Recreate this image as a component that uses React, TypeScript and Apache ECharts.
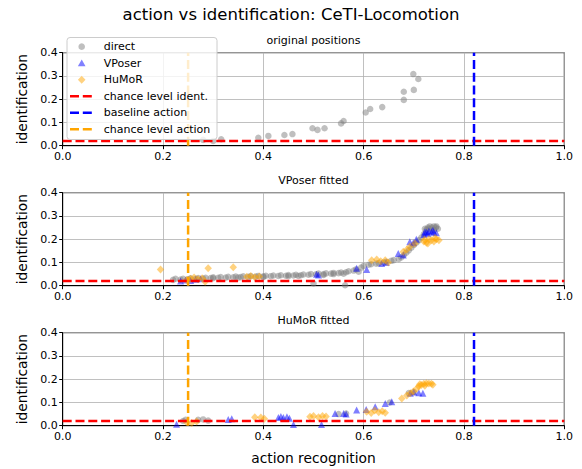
import React, { useEffect, useRef } from "react";
import * as echarts from "echarts";

const TITLE = "action vs identification: CeTI-Locomotion";
const SUBTITLES = ["original positions", "VPoser fitted", "HuMoR fitted"];
const X_TICKS = [0, 0.2, 0.4, 0.6, 0.8, 1.0];
const Y_TICKS = [0, 0.1, 0.2, 0.3, 0.4];
const CHANCE_IDENT = 0.02;
const BASELINE_ACTION = 0.82;
const CHANCE_ACTION = 0.25;

const origDirect: number[][] = [
  [0.28, 0.025], [0.3, 0.02], [0.316, 0.028], [0.39, 0.034], [0.41, 0.042],
  [0.442, 0.046], [0.458, 0.05], [0.498, 0.075], [0.508, 0.068], [0.522, 0.075],
  [0.555, 0.096], [0.56, 0.106], [0.604, 0.143], [0.613, 0.158], [0.637, 0.166],
  [0.68, 0.197], [0.68, 0.232], [0.7, 0.24], [0.699, 0.308], [0.709, 0.287],
];

const vpDirect: number[][] = [
  [0.22, 0.025], [0.225, 0.03], [0.235, 0.026], [0.24, 0.03], [0.25, 0.028], [0.255, 0.032],
  [0.265, 0.03], [0.27, 0.033], [0.28, 0.031], [0.285, 0.034], [0.295, 0.033], [0.3, 0.036],
  [0.31, 0.034], [0.315, 0.037], [0.325, 0.035], [0.33, 0.038], [0.34, 0.036], [0.345, 0.039],
  [0.355, 0.037], [0.36, 0.04], [0.37, 0.038], [0.375, 0.041], [0.385, 0.039], [0.39, 0.042],
  [0.4, 0.04], [0.405, 0.043], [0.415, 0.041], [0.42, 0.044], [0.43, 0.042], [0.435, 0.045],
  [0.445, 0.043], [0.45, 0.046], [0.46, 0.044], [0.465, 0.047], [0.475, 0.045], [0.48, 0.048],
  [0.49, 0.047], [0.495, 0.05], [0.5, 0.01], [0.505, 0.049], [0.51, 0.052], [0.52, 0.05],
  [0.525, 0.053], [0.535, 0.052], [0.54, 0.055], [0.55, 0.054], [0.555, 0.057], [0.563, 0.002],
  [0.565, 0.058], [0.57, 0.062], [0.58, 0.065], [0.585, 0.07], [0.595, 0.078], [0.6, 0.085],
  [0.61, 0.09], [0.615, 0.092], [0.625, 0.095], [0.63, 0.097], [0.64, 0.1], [0.645, 0.103],
  [0.655, 0.107], [0.66, 0.11], [0.67, 0.115], [0.675, 0.122], [0.68, 0.132], [0.685, 0.142],
  [0.69, 0.152], [0.695, 0.163], [0.7, 0.175], [0.705, 0.185], [0.71, 0.195], [0.715, 0.207],
  [0.72, 0.222], [0.722, 0.245], [0.728, 0.25], [0.732, 0.255], [0.736, 0.25], [0.74, 0.255],
  [0.744, 0.25], [0.748, 0.245], [0.745, 0.255], [0.73, 0.245], [0.725, 0.24], [0.74, 0.24],
  [0.3, 0.032], [0.35, 0.035], [0.4, 0.037], [0.45, 0.041], [0.47, 0.042], [0.52, 0.046],
  [0.54, 0.05], [0.56, 0.052], [0.59, 0.06],
];

const vpVPoser: number[][] = [
  [0.235, 0.02], [0.245, 0.025], [0.255, 0.022], [0.265, 0.028], [0.275, 0.03],
  [0.506, 0.049], [0.51, 0.046], [0.586, 0.075], [0.606, 0.07], [0.636, 0.096],
  [0.645, 0.1], [0.669, 0.139], [0.679, 0.132], [0.692, 0.189], [0.699, 0.185],
  [0.705, 0.2], [0.72, 0.22], [0.725, 0.23], [0.73, 0.235], [0.735, 0.232],
  [0.74, 0.23], [0.745, 0.228], [0.728, 0.225], [0.738, 0.238], [0.722, 0.232],
];

const vpHuMoR: number[][] = [
  [0.195, 0.07], [0.29, 0.075], [0.34, 0.079], [0.247, 0.025], [0.255, 0.03],
  [0.262, 0.035], [0.27, 0.028], [0.278, 0.032], [0.284, 0.017], [0.367, 0.038],
  [0.375, 0.042], [0.383, 0.036], [0.392, 0.04], [0.616, 0.11], [0.626, 0.113],
  [0.634, 0.105], [0.643, 0.11], [0.649, 0.1], [0.679, 0.146], [0.686, 0.155],
  [0.692, 0.168], [0.702, 0.182], [0.72, 0.19], [0.725, 0.185], [0.73, 0.2],
  [0.735, 0.195], [0.74, 0.19], [0.745, 0.2], [0.75, 0.195], [0.728, 0.182],
  [0.742, 0.205], [0.722, 0.198],
];

const huDirect: number[][] = [
  [0.24, 0.02], [0.245, 0.025], [0.27, 0.025], [0.28, 0.027], [0.29, 0.022],
  [0.55, 0.05], [0.565, 0.052], [0.652, 0.1], [0.69, 0.14], [0.7, 0.145],
];

const huVPoser: number[][] = [
  [0.227, 0.006], [0.33, 0.027], [0.337, 0.03], [0.43, 0.035], [0.435, 0.04],
  [0.44, 0.035], [0.447, 0.038], [0.452, 0.032], [0.46, 0.005], [0.516, 0.005],
  [0.543, 0.053], [0.56, 0.053], [0.565, 0.05], [0.586, 0.067], [0.605, 0.07],
  [0.623, 0.082], [0.643, 0.096], [0.656, 0.103], [0.693, 0.14], [0.7, 0.145],
  [0.71, 0.142], [0.718, 0.14],
];

const huHuMoR: number[][] = [
  [0.247, 0.015], [0.257, 0.012], [0.267, 0.018], [0.383, 0.036], [0.395, 0.035],
  [0.402, 0.03], [0.493, 0.038], [0.5, 0.042], [0.51, 0.036], [0.518, 0.042],
  [0.525, 0.04], [0.606, 0.06], [0.615, 0.055], [0.622, 0.065], [0.63, 0.058],
  [0.637, 0.062], [0.643, 0.056], [0.676, 0.117], [0.686, 0.13], [0.693, 0.14],
  [0.699, 0.147], [0.706, 0.16], [0.71, 0.17], [0.715, 0.175], [0.72, 0.18],
  [0.725, 0.183], [0.73, 0.182], [0.735, 0.18], [0.738, 0.176], [0.712, 0.178],
  [0.722, 0.172],
];

const PANELS = [
  { direct: origDirect, vposer: [] as number[][], humor: [] as number[][] },
  { direct: vpDirect, vposer: vpVPoser, humor: vpHuMoR },
  { direct: huDirect, vposer: huVPoser, humor: huHuMoR },
];

const FONT = "DejaVu Sans";
const GRID_LEFT = 62.7;
const GRID_W = 501.6;
const GRID_TOPS = [52.7, 192.7, 332.7];
const GRID_H = 93;

export default function App() {
  const ref = useRef<HTMLDivElement>(null);
  useEffect(() => {
    if (!ref.current) return;
    const chart = echarts.init(ref.current, undefined, { renderer: "svg" });
    const grids: any[] = [];
    const xAxes: any[] = [];
    const yAxes: any[] = [];
    const series: any[] = [];
    const dash = [9, 3.8];
    PANELS.forEach((p, i) => {
      grids.push({
        left: GRID_LEFT, top: GRID_TOPS[i], width: GRID_W, height: GRID_H,
        show: true, borderColor: "#000", borderWidth: 1, backgroundColor: "transparent",
      });
      xAxes.push({
        gridIndex: i, type: "value", min: X_TICKS[0], max: X_TICKS[X_TICKS.length - 1], interval: 0.2,
        axisLine: { show: true, lineStyle: { color: "#000", width: 1 } },
        axisTick: { show: true, length: 3.5, lineStyle: { color: "#000" } },
        axisLabel: { fontFamily: FONT, fontSize: 11, color: "#000", margin: 5, formatter: (v: number) => v.toFixed(1) },
        splitLine: { show: true, lineStyle: { color: "#b0b0b0", width: 0.8 } },
        name: i === 2 ? "action recognition" : "",
        nameLocation: "middle", nameGap: 25,
        nameTextStyle: { fontFamily: FONT, fontSize: 13.8, color: "#000" },
      });
      yAxes.push({
        gridIndex: i, type: "value", min: Y_TICKS[0], max: Y_TICKS[Y_TICKS.length - 1], interval: 0.1,
        axisLine: { show: true, lineStyle: { color: "#000", width: 1 } },
        axisTick: { show: true, length: 3.5, lineStyle: { color: "#000" } },
        axisLabel: { fontFamily: FONT, fontSize: 11, color: "#000", margin: 5, formatter: (v: number) => v.toFixed(1) },
        splitLine: { show: true, lineStyle: { color: "#b0b0b0", width: 0.8 } },
        name: "identification", nameLocation: "middle", nameGap: 33, nameRotate: 90,
        nameTextStyle: { fontFamily: FONT, fontSize: 13.8, color: "#000" },
      });
      series.push({
        type: "scatter", xAxisIndex: i, yAxisIndex: i, data: p.direct, symbol: "circle", symbolSize: 6.5,
        itemStyle: { color: "#808080", opacity: 0.5 }, z: 3,
      });
      series.push({
        type: "scatter", xAxisIndex: i, yAxisIndex: i, data: p.vposer, symbol: "triangle", symbolSize: 7,
        itemStyle: { color: "#0000ff", opacity: 0.5 }, z: 3,
      });
      series.push({
        type: "scatter", xAxisIndex: i, yAxisIndex: i, data: p.humor, symbol: "diamond", symbolSize: [7.5, 8],
        itemStyle: { color: "#ffa500", opacity: 0.5 }, z: 3,
      });
      series.push({
        type: "line", xAxisIndex: i, yAxisIndex: i, data: [[0, CHANCE_IDENT], [1, CHANCE_IDENT]],
        symbol: "none", lineStyle: { color: "#ff0000", width: 2.5, type: dash }, z: 5,
      });
      series.push({
        type: "line", xAxisIndex: i, yAxisIndex: i, data: [[BASELINE_ACTION, 0], [BASELINE_ACTION, 0.4]],
        symbol: "none", lineStyle: { color: "#0000ff", width: 2.5, type: dash }, z: 5,
      });
      series.push({
        type: "line", xAxisIndex: i, yAxisIndex: i, data: [[CHANCE_ACTION, 0], [CHANCE_ACTION, 0.4]],
        symbol: "none", lineStyle: { color: "#ffa500", width: 2.5, type: dash }, z: 5,
      });
    });

    const graphics: any[] = [];
    graphics.push({
      type: "text", x: 291, y: 14, z: 100,
      style: { text: TITLE, fontFamily: FONT, fontSize: 16.5, fill: "#000", textAlign: "center", textVerticalAlign: "middle" },
    });
    SUBTITLES.forEach((t, i) => {
      graphics.push({
        type: "text", x: GRID_LEFT + GRID_W / 2, y: GRID_TOPS[i] - 12.5, z: 100,
        style: { text: t, fontFamily: FONT, fontSize: 11, fill: "#000", textAlign: "center", textVerticalAlign: "middle" },
      });
    });
    // legend
    const lx = 67, ly = 37.5, lw = 150, lh = 102;
    graphics.push({
      type: "rect", z: 100, shape: { x: lx, y: ly, width: lw, height: lh, r: 3 },
      style: { fill: "rgba(255,255,255,0.8)", stroke: "#cccccc", lineWidth: 1 },
    });
    const rows = ["direct", "VPoser", "HuMoR", "chance level ident.", "baseline action", "chance level action"];
    const rowY = [46.7, 63.2, 79.8, 96.3, 112.8, 129.3];
    const mx = 81.7;
    rows.forEach((r, k) => {
      graphics.push({
        type: "text", x: 103.7, y: rowY[k], z: 101,
        style: { text: r, fontFamily: FONT, fontSize: 11, fill: "#000", textVerticalAlign: "middle" },
      });
    });
    graphics.push({ type: "circle", z: 101, shape: { cx: mx, cy: rowY[0], r: 3.3 }, style: { fill: "#bfbfbf" } });
    graphics.push({
      type: "polygon", z: 101,
      shape: { points: [[mx, rowY[1] - 3.6], [mx - 3.8, rowY[1] + 3], [mx + 3.8, rowY[1] + 3]] },
      style: { fill: "#8080ff" },
    });
    graphics.push({
      type: "polygon", z: 101,
      shape: { points: [[mx, rowY[2] - 4], [mx + 3.8, rowY[2]], [mx, rowY[2] + 4], [mx - 3.8, rowY[2]]] },
      style: { fill: "#ffd280" },
    });
    const lineCols = ["#ff0000", "#0000ff", "#ffa500"];
    lineCols.forEach((c, k) => {
      graphics.push({
        type: "line", z: 101, shape: { x1: 70, y1: rowY[3 + k], x2: 93.5, y2: rowY[3 + k] },
        style: { stroke: c, lineWidth: 2.5, lineDash: [9, 3.8] },
      });
    });

    chart.setOption({
      animation: false,
      backgroundColor: "#fff",
      grid: grids,
      xAxis: xAxes,
      yAxis: yAxes,
      series,
      graphic: graphics,
    });
    return () => chart.dispose();
  }, []);
  return <div ref={ref} style={{ width: 582, height: 469, position: "absolute", left: 0, top: 0 }} />;
}
